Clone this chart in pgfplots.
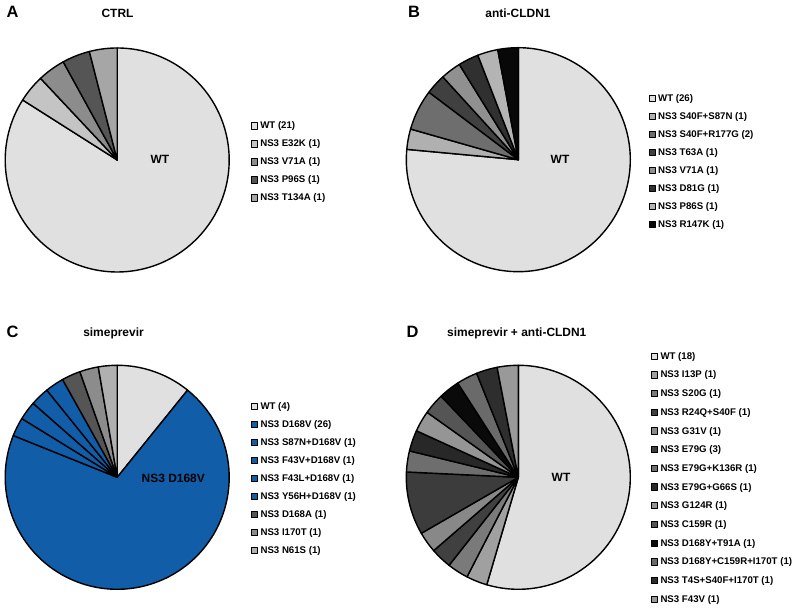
\documentclass[border=0pt]{standalone}
\usepackage{pgfplots}
\usepackage{pgfplotstable}
\pgfplotsset{compat=1.18}
\usepackage{fontspec}
\setmainfont{Liberation Sans}

\definecolor{gWT}{RGB}{224,224,224}
\definecolor{cA1}{RGB}{196,196,196}
\definecolor{cA2}{RGB}{140,140,140}
\definecolor{cA3}{RGB}{85,85,85}
\definecolor{cA4}{RGB}{166,166,166}
\definecolor{cB1}{RGB}{176,176,176}
\definecolor{cB2}{RGB}{110,110,110}
\definecolor{cB3}{RGB}{64,64,64}
\definecolor{cB4}{RGB}{144,144,144}
\definecolor{cB5}{RGB}{48,48,48}
\definecolor{cB6}{RGB}{180,180,180}
\definecolor{cB7}{RGB}{8,8,8}
\definecolor{blueV}{RGB}{17,93,168}
\definecolor{cC6}{RGB}{85,85,85}
\definecolor{cC7}{RGB}{140,140,140}
\definecolor{cC8}{RGB}{176,176,176}
\definecolor{cD1}{RGB}{160,160,160}
\definecolor{cD2}{RGB}{122,122,122}
\definecolor{cD3}{RGB}{64,64,64}
\definecolor{cD4}{RGB}{136,136,136}
\definecolor{cD5}{RGB}{60,60,60}
\definecolor{cD6}{RGB}{110,110,110}
\definecolor{cD7}{RGB}{40,40,40}
\definecolor{cD8}{RGB}{149,149,149}
\definecolor{cD9}{RGB}{85,85,85}
\definecolor{cD10}{RGB}{10,10,10}
\definecolor{cD11}{RGB}{106,106,106}
\definecolor{cD12}{RGB}{46,46,46}
\definecolor{cD13}{RGB}{153,153,153}

\pgfplotstableread[col sep=comma,row sep=\\]{
label,count,color\\
WT,21,gWT\\
NS3 E32K,1,cA1\\
NS3 V71A,1,cA2\\
NS3 P96S,1,cA3\\
NS3 T134A,1,cA4\\
}\pieA

\pgfplotstableread[col sep=comma,row sep=\\]{
label,count,color\\
WT,26,gWT\\
NS3 S40F+S87N,1,cB1\\
NS3 S40F+R177G,2,cB2\\
NS3 T63A,1,cB3\\
NS3 V71A,1,cB4\\
NS3 D81G,1,cB5\\
NS3 P86S,1,cB6\\
NS3 R147K,1,cB7\\
}\pieB

\pgfplotstableread[col sep=comma,row sep=\\]{
label,count,color\\
WT,4,gWT\\
NS3 D168V,26,blueV\\
NS3 S87N+D168V,1,blueV\\
NS3 F43V+D168V,1,blueV\\
NS3 F43L+D168V,1,blueV\\
NS3 Y56H+D168V,1,blueV\\
NS3 D168A,1,cC6\\
NS3 I170T,1,cC7\\
NS3 N61S,1,cC8\\
}\pieC

\pgfplotstableread[col sep=comma,row sep=\\]{
label,count,color\\
WT,18,gWT\\
NS3 I13P,1,cD1\\
NS3 S20G,1,cD2\\
NS3 R24Q+S40F,1,cD3\\
NS3 G31V,1,cD4\\
NS3 E79G,3,cD5\\
NS3 E79G+K136R,1,cD6\\
NS3 E79G+G66S,1,cD7\\
NS3 G124R,1,cD8\\
NS3 C159R,1,cD9\\
NS3 D168Y+T91A,1,cD10\\
NS3 D168Y+C159R+I170T,1,cD11\\
NS3 T4S+S40F+I170T,1,cD12\\
NS3 F43V,1,cD13\\
}\pieD

% #1 table, #2 cx, #3 cy, #4 radius (axis units = bp)
\newcommand\drawpie[4]{%
  \pgfplotstablegetrowsof{#1}%
  \pgfmathtruncatemacro\N{\pgfplotsretval-1}%
  \def\tot{0}%
  \pgfplotsforeachungrouped \i in {0,...,\N}{%
    \pgfplotstablegetelem{\i}{count}\of{#1}%
    \pgfmathsetmacro\tot{\tot+\pgfplotsretval}}%
  \def\cum{0}%
  \pgfplotsforeachungrouped \i in {0,...,\N}{%
    \pgfplotstablegetelem{\i}{count}\of{#1}\let\cnt\pgfplotsretval
    \pgfplotstablegetelem{\i}{color}\of{#1}\let\col\pgfplotsretval
    \pgfplotstablegetelem{\i}{label}\of{#1}\let\lab\pgfplotsretval
    \pgfmathsetmacro\angA{90-360*\cum/\tot}%
    \pgfmathsetmacro\angB{90-360*(\cum+\cnt)/\tot}%
    \pgfmathtruncatemacro\ns{max(3,ceil((\angA-\angB)/2)+1)}%
    \pgfmathsetmacro\cum{\cum+\cnt}%
    \edef\temp{\noexpand\addplot[draw=black, line width=1.4bp, line join=round, fill=\col, domain=\angB:\angA, samples=\ns] ({#2+#4*cos(x)},{#3+#4*sin(x)}) -- (axis cs:#2,#3) -- cycle; \noexpand\addlegendentry{\lab\space(\cnt)}}%
    \temp
  }%
}

\newcommand\titlefont{\fontsize{12}{14}\selectfont\bfseries}
\newcommand\letterfont{\fontsize{16.5}{18}\selectfont\bfseries}

\pgfplotsset{pieaxis/.style={
  scale only axis, width=795bp, height=608bp,
  xmin=0, xmax=795, ymin=0, ymax=608,
  hide axis, clip=false, at={(0,0)}, anchor=south west,
  legend cell align=left,
  legend image code/.code={\draw[##1, line width=0.8bp] (0bp,-2.5bp) rectangle (6.3bp,3.8bp);},
  legend style={draw=none, fill=none, inner sep=0pt, column sep=2.5bp, row sep=9bp,
    font=\fontsize{9.7}{11}\selectfont\bfseries,
    nodes={inner sep=0pt, text height=7bp, text depth=2bp}, anchor=north west},
}}

\begin{document}
\begin{tikzpicture}
% Panel A
\begin{axis}[pieaxis, legend style={at={(0.3151,0.7998)}}]
\drawpie{\pieA}{117.2}{448}{112}
\node[font=\titlefont] at (axis cs:160,448.5) {WT};
\node[font=\letterfont, anchor=base west] at (axis cs:3,590) {A};
\node[font=\titlefont, anchor=base] at (axis cs:117.5,590) {CTRL};
\coordinate (bl) at (axis cs:0,0);
\coordinate (tr) at (axis cs:795,608);
\end{axis}
% Panel B
\begin{axis}[pieaxis, legend style={at={(0.8155,0.8452)}}]
\drawpie{\pieB}{518.3}{448.3}{112}
\node[font=\titlefont] at (axis cs:560,448.7) {WT};
\node[font=\letterfont, anchor=base west] at (axis cs:404.5,590) {B};
\node[font=\titlefont, anchor=base] at (axis cs:518,590) {anti-CLDN1};
\end{axis}
% Panel C
\begin{axis}[pieaxis, legend style={at={(0.3154,0.3377)}}]
\drawpie{\pieC}{117.2}{130.7}{112}
\node[font=\titlefont] at (axis cs:173.3,129.7) {NS3 D168V};
\node[font=\letterfont, anchor=base west] at (axis cs:3,270.3) {C};
\node[font=\titlefont, anchor=base] at (axis cs:113.5,271.7) {simeprevir};
\end{axis}
% Panel D
\begin{axis}[pieaxis, legend style={at={(0.8185,0.4209)}, row sep=9.7bp}]
\drawpie{\pieD}{518.3}{130.7}{112}
\node[font=\titlefont] at (axis cs:561,130.3) {WT};
\node[font=\letterfont, anchor=base west] at (axis cs:403,270.3) {D};
\node[font=\titlefont, anchor=base] at (axis cs:516.8,271.7) {simeprevir + anti-CLDN1};
\end{axis}
\pgfresetboundingbox
\path[use as bounding box] (bl) rectangle (tr);
\end{tikzpicture}
\end{document}
